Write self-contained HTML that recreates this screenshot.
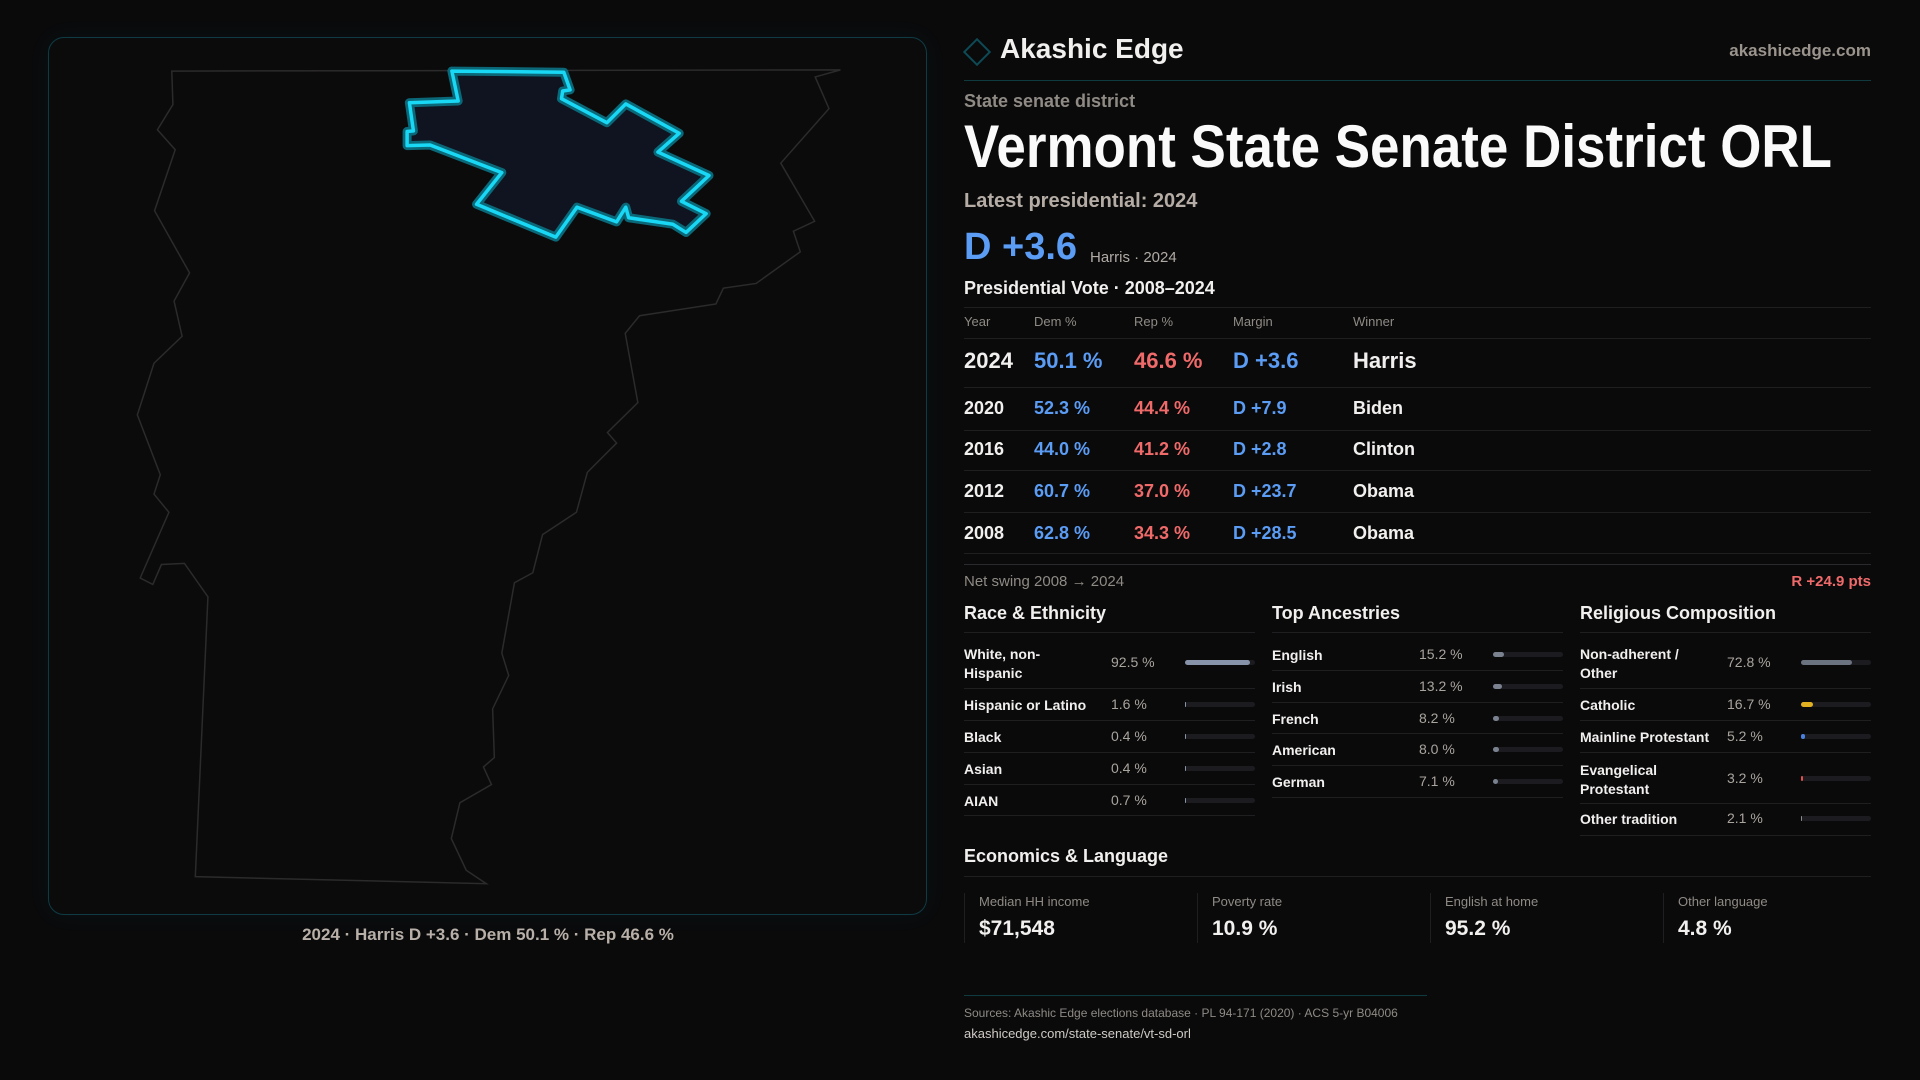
<!DOCTYPE html>
<html><head><meta charset="utf-8">
<style>
*{margin:0;padding:0;box-sizing:border-box}
body{width:1920px;height:1080px;background:#0a0a0b;font-family:"Liberation Sans",sans-serif;color:#f2f0ee;position:relative;overflow:hidden}
.a{position:absolute;white-space:nowrap;line-height:1}
.hl{position:absolute;height:1px;background:#1f1f22}
.g{color:#8f8a84}
.bar{position:absolute;height:5px;border-radius:3px;background:#1c1c20}
.fill{position:absolute;left:0;top:0;height:5px;border-radius:3px}
</style></head><body>
<div style="position:absolute;left:48px;top:37px;width:879px;height:878px;border:1px solid #0f3c44;border-radius:16px;background:#0b0b0c;box-shadow:0 0 24px rgba(0,200,230,0.05)"></div>
<svg style="position:absolute;left:30px;top:30px" width="900" height="920" viewBox="0 0 1568 1568" preserveAspectRatio="none">
<polygon fill="none" stroke="#2c2b2b" stroke-width="1.5" vector-effect="non-scaling-stroke" points="247,70 1412,68 1368,80 1392,134 1308,227 1367,326 1330,343 1342,378 1265,432 1208,440 1195,467 1062,487 1037,517 1059,635 1006,686 1022,704 971,754 952,822 893,860 876,925 844,942 822,1062 834,1100 806,1157 809,1240 790,1256 804,1286 749,1317 734,1378 760,1432 795,1455 288,1443 310,966 269,909 229,911 214,945 192,934 242,822 216,791 227,758 187,656 216,568 265,522 251,462 278,414 217,308 253,204 222,170 249,127"/>
<polygon fill="#0f1420" stroke="#0b6878" stroke-width="9" stroke-linejoin="round" vector-effect="non-scaling-stroke" points="735,70 930,72 941,102 928,104 926,117 1005,158 1038,126 1131,176 1094,208 1183,248 1135,292 1178,313 1143,345 1120,331 1043,320 1038,302 1022,327 953,302 916,353 778,297 822,243 697,196 657,197 657,173 668,172 661,124 746,121"/>
<polygon fill="none" stroke="#19d8f5" stroke-width="3.5" stroke-linejoin="round" vector-effect="non-scaling-stroke" points="735,70 930,72 941,102 928,104 926,117 1005,158 1038,126 1131,176 1094,208 1183,248 1135,292 1178,313 1143,345 1120,331 1043,320 1038,302 1022,327 953,302 916,353 778,297 822,243 697,196 657,197 657,173 668,172 661,124 746,121"/>
</svg>
<div class="a" style="left:0;width:976px;text-align:center;top:926px;font-size:17px;color:#b8b0a8;font-weight:bold">2024 · Harris D +3.6 · Dem 50.1 % · Rep 46.6 %</div>

<div style="position:absolute;left:967px;top:42px;width:20px;height:20px;border:2px solid #0d4a55;transform:rotate(45deg)"></div>
<div class="a" style="left:1000px;top:35px;font-size:28px;font-weight:bold">Akashic Edge</div>
<div class="a" style="right:49px;top:42px;font-size:17px;color:#9a948c;font-weight:bold">akashicedge.com</div>
<div class="hl" style="left:964px;width:907px;top:80px;background:#0e3a40"></div>
<div class="a g" style="left:964px;top:92px;font-size:18px;font-weight:bold">State senate district</div>
<svg style="position:absolute;left:962px;top:112px" width="900" height="70"><text x="2" y="55" font-family="Liberation Sans, sans-serif" font-weight="bold" font-size="60" fill="#fafafa" textLength="868" lengthAdjust="spacingAndGlyphs">Vermont State Senate District ORL</text></svg>
<div class="a" style="left:964px;top:191px;font-size:20px;color:#b5ada5;font-weight:bold">Latest presidential: 2024</div>
<div class="a" style="left:964px;top:228px;font-size:38px;color:#5b9cf5;font-weight:bold">D +3.6</div>
<div class="a" style="left:1090px;top:250px;font-size:15px;color:#b0aaa4">Harris · 2024</div>
<div class="a" style="left:964px;top:279px;font-size:18px;font-weight:bold">Presidential Vote · 2008–2024</div>
<div class="hl" style="left:964px;width:907px;top:307px"></div>
<div class="a g" style="left:964px;top:315px;font-size:13px">Year</div>
<div class="a g" style="left:1034px;top:315px;font-size:13px">Dem %</div>
<div class="a g" style="left:1134px;top:315px;font-size:13px">Rep %</div>
<div class="a g" style="left:1233px;top:315px;font-size:13px">Margin</div>
<div class="a g" style="left:1353px;top:315px;font-size:13px">Winner</div>
<div class="hl" style="left:964px;width:907px;top:338px"></div>
<div id="tbl"></div>
<div class="hl" style="left:964px;width:907px;top:564px;background:#2a2a2e"></div>
<div class="a g" style="left:964px;top:574px;font-size:15px">Net swing 2008 → 2024</div>
<div class="a" style="right:49px;top:574px;font-size:15px;color:#f06a6a;font-weight:bold">R +24.9 pts</div>
<div id="demo"></div>
<div class="a" style="left:964px;top:847px;font-size:18px;font-weight:bold">Economics &amp; Language</div>
<div class="hl" style="left:964px;width:907px;top:876px"></div>
<div id="cards"></div>
<div class="hl" style="left:964px;width:463px;top:995px;background:#0e3a40"></div>
<div class="a g" style="left:964px;top:1007px;font-size:12px">Sources: Akashic Edge elections database · PL 94-171 (2020) · ACS 5-yr B04006</div>
<div class="a" style="left:964px;top:1027px;font-size:13px;color:#cfcac4">akashicedge.com/state-senate/vt-sd-orl</div>
<script>
const years=["2024","2020","2016","2012","2008"];
const demPct=[50.1,52.3,44.0,60.7,62.8];
const repPct=[46.6,44.4,41.2,37.0,34.3];
const margins=[3.6,7.9,2.8,23.7,28.5];
const winners=["Harris","Biden","Clinton","Obama","Obama"];
const raceLabels=["White, non-Hispanic","Hispanic or Latino","Black","Asian","AIAN"];
const raceVals=[92.5,1.6,0.4,0.4,0.7];
const ancLabels=["English","Irish","French","American","German"];
const ancVals=[15.2,13.2,8.2,8.0,7.1];
const relLabels=["Non-adherent / Other","Catholic","Mainline Protestant","Evangelical Protestant","Other tradition"];
const relVals=[72.8,16.7,5.2,3.2,2.1];
const econLabels=["Median HH income","Poverty rate","English at home","Other language"];
const econVals=["$71,548","10.9 %","95.2 %","4.8 %"];

function mk(parent,css,txt){const d=document.createElement('div');d.className='a';d.style.cssText=css;if(txt!==undefined)d.textContent=txt;parent.appendChild(d);return d;}
const tbl=document.getElementById('tbl');
const rowY=[361,408,449,491,533];
const lineY=[387,430,470,512,553];
years.forEach((y,i)=>{
  const fs=i===0?22:18;const top=rowY[i]-fs/2;
  const m=margins[i];
  const c1=mk(tbl,`left:964px;top:${top}px;font-size:${fs}px;font-weight:bold`,y);
  
  
  const c2=mk(tbl,`left:1034px;top:${top}px;font-size:${fs}px;font-weight:bold;color:#5b9cf5`,demPct[i].toFixed(1)+' %');
  
  
  const c3=mk(tbl,`left:1134px;top:${top}px;font-size:${fs}px;font-weight:bold;color:#f06a6a`,repPct[i].toFixed(1)+' %');
  
  
  const c4=mk(tbl,`left:1233px;top:${top}px;font-size:${fs}px;font-weight:bold;color:${m>=0?'#5b9cf5':'#f06a6a'}`,(m>=0?'D +':'R +')+Math.abs(m).toFixed(1));
  
  
  const c5=mk(tbl,`left:1353px;top:${top}px;font-size:${fs}px;font-weight:bold`,winners[i]);
  
  
  const l=document.createElement('div');l.className='hl';l.style.cssText=`left:964px;width:907px;top:${lineY[i]}px`;tbl.appendChild(l);
  
  
});

const demo=document.getElementById('demo');
const cols=[
 {x:964,title:"Race & Ethnicity",labels:raceLabels,vals:raceVals,two:[1,0,0,0,0],color:()=>'#8793a8',rows:[662,704,736,768,800],lines:[688,720,752,784,815],name:'race'},
 {x:1272,title:"Top Ancestries",labels:ancLabels,vals:ancVals,two:[0,0,0,0,0],color:()=>'#7a8290',rows:[654,686,718,749,781],lines:[670,702,733,765,797],name:'ancestry'},
 {x:1580,title:"Religious Composition",labels:relLabels,vals:relVals,two:[1,0,0,1,0],color:(i)=>['#6b7280','#e0b020','#4a80e0','#e05050','#8a8a90'][i],rows:[662,704,736,778,818],lines:[688,720,752,803,835],name:'religion'}
];
cols.forEach(c=>{
  const t=mk(demo,`left:${c.x}px;top:604px;font-size:18px;font-weight:bold`,c.title);
  
  
  const hr=document.createElement('div');hr.className='hl';hr.style.cssText=`left:${c.x}px;width:291px;top:632px`;demo.appendChild(hr);
  
  
  c.labels.forEach((lab,i)=>{
    const y=c.rows[i];const two=c.two[i];
    const lb=mk(demo,`left:${c.x}px;top:${two?y-17:y-8}px;font-size:14px;font-weight:bold;white-space:normal;width:${two?115:150}px;line-height:19px`,lab);
    
    
    const v=mk(demo,`left:${c.x+147}px;top:${y-7}px;font-size:14px;color:#aaa49e`,c.vals[i].toFixed(1)+' %');
    
    
    const tr=document.createElement('div');tr.className='bar';tr.style.cssText=`left:${c.x+221}px;top:${y-2}px;width:70px`;demo.appendChild(tr);
    
    
    const f=document.createElement('div');f.className='fill';f.style.cssText=`width:${70*c.vals[i]/100}px;background:${c.color(i)}`;tr.appendChild(f);
    
    
    const l=document.createElement('div');l.className='hl';l.style.cssText=`left:${c.x}px;width:291px;top:${c.lines[i]}px`;demo.appendChild(l);
    
    
  });
});

const cards=document.getElementById('cards');
econLabels.forEach((lab,i)=>{
  const x=964+i*233;
  const b=document.createElement('div');b.style.cssText=`position:absolute;left:${x}px;top:893px;width:1px;height:50px;background:#1f1f22`;cards.appendChild(b);
  
  
  const l=mk(cards,`left:${x+15}px;top:895px;font-size:13px;color:#8f8a84`,lab);
  
  
  const v=mk(cards,`left:${x+15}px;top:918px;font-size:21px;font-weight:bold`,econVals[i]);
  
  
});
</script>
</body></html>
